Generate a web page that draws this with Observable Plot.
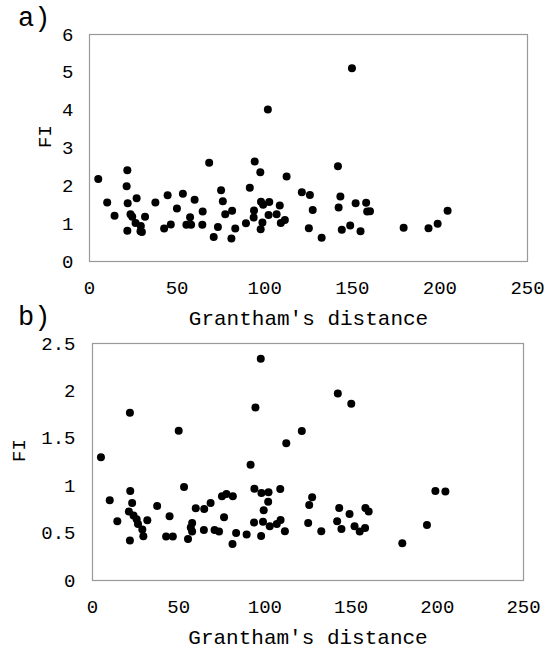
<!DOCTYPE html>
<html><head><meta charset="utf-8">
<script src="https://cdn.jsdelivr.net/npm/d3@7"></script>
<script src="https://cdn.jsdelivr.net/npm/@observablehq/plot@0.6"></script>
<style>
body{margin:0;background:#fff;}
#wrap{position:relative;width:555px;height:651px;font-family:"Liberation Mono","Courier New",monospace;color:#000;}
.panel{position:absolute;left:0;}
.tag{position:absolute;left:18px;font-size:27px;line-height:1;}
</style></head><body>
<div id="wrap">
 <div class="panel" id="pa" style="top:0"></div>
 <div class="panel" id="pb" style="top:330px"></div>
 <div class="tag" style="top:6px">a)</div>
 <div class="tag" style="top:305px">b)</div>
</div>
<script>
const xTitle = "Grantham's distance";
const yTitle = "FI";
const xTicks = [0, 50, 100, 150, 200, 250];
const yTicksA = [0, 1, 2, 3, 4, 5, 6];
const yTicksB = [0, 0.5, 1, 1.5, 2, 2.5];

// Panel a
const distA = [5.0,10.1,14.3,21.6,21.2,21.8,21.6,23.4,24.4,26.9,26.3,29.3,29.1,29.9,31.7,37.6,42.6,44.6,46.4,49.9,53.3,55.3,57.4,58.0,60.0,64.4,64.6,68.3,70.9,73.3,75.1,76.1,77.5,81.0,81.4,83.2,89.3,91.5,94.3,93.9,93.7,97.5,97.9,99.1,98.7,97.7,101.8,102.6,102.2,106.8,108.6,109.2,111.5,112.5,121.2,125.8,125.2,127.4,132.5,141.8,142.2,143.2,144.0,148.8,149.8,151.9,154.7,157.9,158.5,160.1,179.3,193.5,198.7,204.4];
const fiA = [2.18,1.56,1.21,2.41,1.99,1.54,0.81,1.25,1.18,1.67,1.02,0.94,0.80,0.78,1.18,1.56,0.87,1.75,0.98,1.40,1.79,0.97,1.17,0.97,1.63,0.97,1.32,2.61,0.65,0.91,1.88,1.59,1.25,0.61,1.34,0.87,1.01,1.95,2.64,1.35,1.16,2.36,1.58,1.50,1.03,0.85,4.02,1.57,1.23,1.25,1.48,1.02,1.10,2.25,1.83,1.76,0.88,1.36,0.63,2.52,1.43,1.72,0.84,0.95,5.11,1.54,0.80,1.55,1.32,1.33,0.89,0.88,1.00,1.34];

// Panel b
const distB = [4.9,10.0,14.4,21.7,21.9,23.0,21.1,21.7,23.8,25.6,26.4,28.9,29.5,31.8,37.5,42.7,44.7,46.6,50.0,53.1,55.4,57.0,57.8,57.8,59.9,64.6,64.8,68.5,70.8,73.4,75.1,77.7,76.3,81.4,81.2,83.3,89.4,91.7,94.5,93.9,93.7,97.6,98.0,99.3,98.9,97.8,102.1,101.9,102.8,106.9,109.1,108.9,111.6,112.4,121.4,125.7,127.4,125.1,132.7,142.3,141.9,143.1,144.4,149.1,150.1,152.0,155.0,158.1,158.3,160.2,179.7,194.0,198.9,204.7];
const fiB = [1.30,0.846,0.625,1.77,0.945,0.818,0.727,0.421,0.685,0.646,0.597,0.537,0.467,0.636,0.787,0.463,0.678,0.463,1.58,0.987,0.439,0.558,0.607,0.516,0.762,0.534,0.755,0.818,0.534,0.516,0.888,0.913,0.667,0.888,0.386,0.502,0.485,1.22,1.826,0.969,0.611,2.34,0.923,0.741,0.621,0.470,0.930,0.832,0.572,0.597,0.639,0.966,0.520,1.447,1.577,0.797,0.878,0.607,0.520,1.973,0.625,0.765,0.544,0.702,1.864,0.572,0.516,0.555,0.765,0.727,0.393,0.586,0.945,0.938];

const FONT = "'Liberation Mono', 'Courier New', monospace";

function panel(xs, ys, yTicks, yMax, cfg) {
  const data = xs.map((d, i) => ({x: d, y: ys[i]}));
  return Plot.plot({
    width: 555,
    height: cfg.height,
    marginTop: cfg.mt, marginBottom: cfg.mb, marginLeft: cfg.ml, marginRight: cfg.mr,
    style: {fontFamily: FONT, fontSize: "19px", color: "#000", background: "transparent", overflow: "visible"},
    x: {domain: [0, 250], label: null},
    y: {domain: [0, yMax], label: null},
    marks: [
      Plot.frame({stroke: "#999", strokeWidth: 1.2}),
      Plot.dot(data, {x: "x", y: "y", r: 4, fill: "#000", stroke: "none"}),
      Plot.axisX({ticks: xTicks, tickFormat: d => String(d), tickSize: 0, tickPadding: 19, label: null}),
      Plot.axisY({ticks: yTicks, tickFormat: d => String(d), tickSize: 0, tickPadding: cfg.yPad, label: null}),
      Plot.text([xTitle], {text: d => d, frameAnchor: "bottom", dy: 57, lineAnchor: "middle", fontSize: 21, fill: "#000"}),
      Plot.text([yTitle], {text: d => d, frameAnchor: "left", dx: cfg.fiDx, rotate: -90, lineAnchor: "middle", fontSize: 19, fill: "#000"})
    ]
  });
}

document.getElementById("pa").append(panel(distA, fiA, yTicksA, 6, {height: 330, mt: 34, mb: 69, ml: 89, mr: 28, yPad: 16, fiDx: -45}));
document.getElementById("pb").append(panel(distB, fiB, yTicksB, 2.5, {height: 321, mt: 13, mb: 71, ml: 92, mr: 32, yPad: 17, fiDx: -74}));
</script>
</body></html>
